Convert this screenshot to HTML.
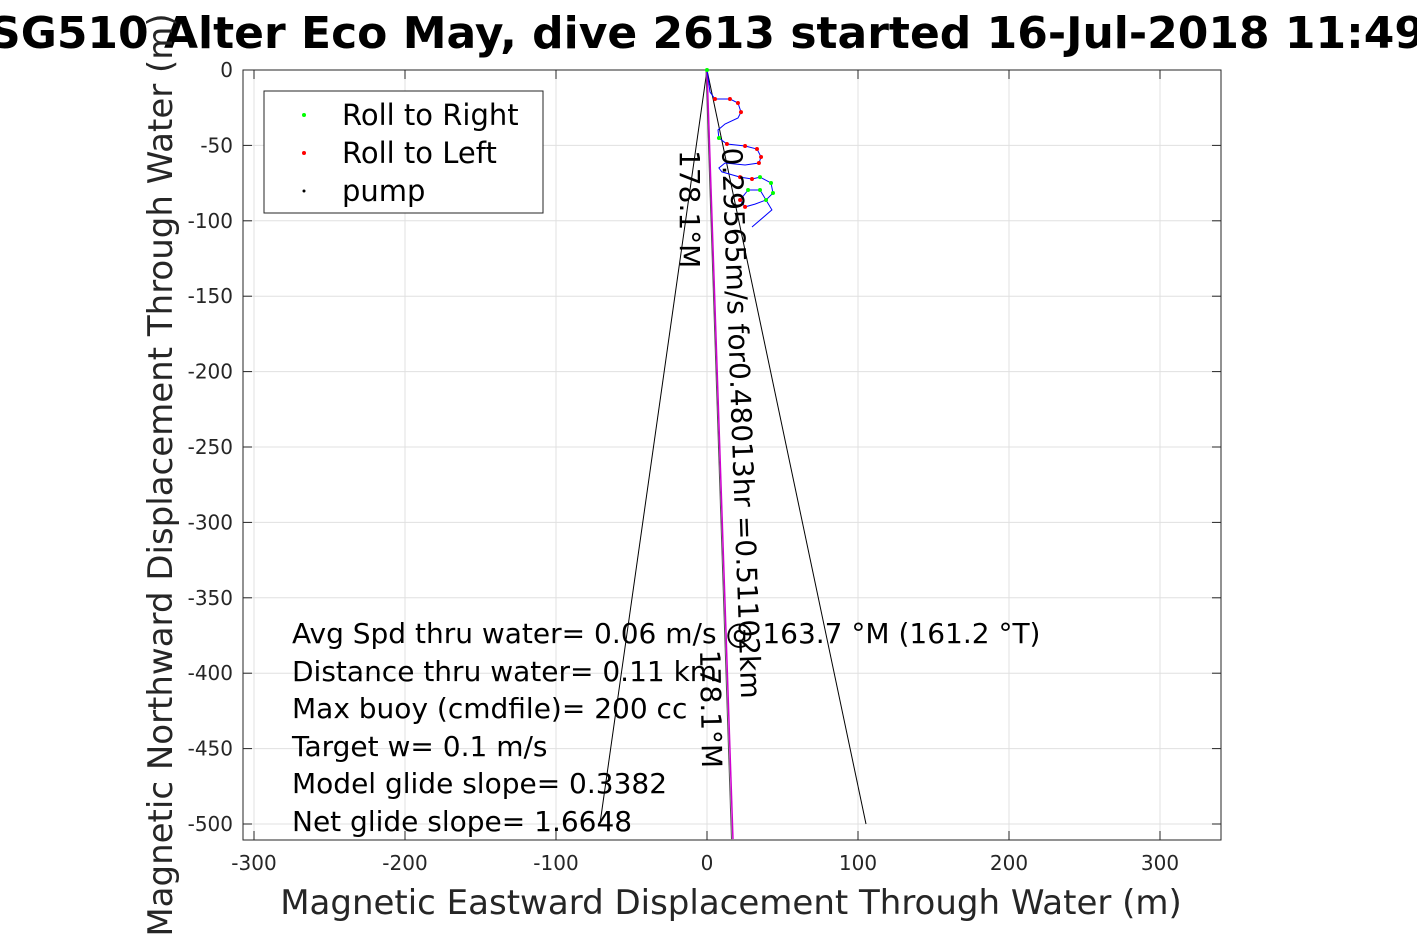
<!DOCTYPE html>
<html><head><meta charset="utf-8">
<style>
body{margin:0;background:#fff;}
svg{display:block;font-family:"DejaVu Sans","Liberation Sans",sans-serif;}
</style></head>
<body>
<svg id="chart" width="1417" height="945" viewBox="0 0 1417 945">
<rect width="1417" height="945" fill="#fff"/>
<g id="grid"></g>
<g id="axes"></g>
<g id="marks"></g>
<text x="707" y="48" font-size="44" font-weight="bold" text-anchor="middle">SG510 Alter Eco May, dive 2613 started 16-Jul-2018 11:49</text>
<text x="731" y="914" font-size="34" fill="#262626" text-anchor="middle">Magnetic Eastward Displacement Through Water (m)</text>
<text transform="translate(172,475) rotate(-90)" font-size="34" fill="#262626" text-anchor="middle">Magnetic Northward Displacement Through Water (m)</text>
<g>
<rect x="264" y="91" width="279" height="122" fill="#fff" stroke="#262626" stroke-width="1"/>
<circle cx="304" cy="115" r="2" fill="#00ff00"/>
<text x="342" y="125" font-size="29">Roll to Right</text>
<circle cx="304" cy="153" r="2" fill="#ff0000"/>
<text x="342" y="163" font-size="29">Roll to Left</text>
<circle cx="304" cy="191" r="1.5" fill="#000"/>
<text x="342" y="201" font-size="29">pump</text>
</g>
<g font-size="28">
<text x="292" y="643">Avg Spd thru water=  0.06 m/s @ 163.7 °M (161.2 °T)</text>
<text x="292" y="681">Distance thru water=  0.11 km</text>
<text x="292" y="718">Max buoy (cmdfile)= 200 cc</text>
<text x="292" y="756">Target w= 0.1 m/s</text>
<text x="292" y="793">Model glide slope= 0.3382</text>
<text x="292" y="831">Net glide slope= 1.6648</text>
</g>
<text transform="translate(680,150) rotate(90)" font-size="28">178.1°M</text>
<text transform="translate(700,650) rotate(89)" font-size="28">178.1°M</text>
<text transform="translate(722,148) rotate(88)" font-size="28">0.29565m/s for0.48013hr =0.51102km</text>
</svg>
<script>
const xTicks=[-300,-200,-100,0,100,200,300];
const yTicks=[0,-50,-100,-150,-200,-250,-300,-350,-400,-450,-500];
const trackX=[0,2,5.3,15.2,20.5,22.5,20.5,11.9,7.3,7.9,13.2,25.2,33.1,35.8,34.4,25.2,11.9,7.9,9.9,21.9,29.8,35.1,42.4,43.7,39.1,31.8,25.2,21.9,27.2,35.1,39.1,43.0,29.8];
const trackY=[0,-14.6,-19.2,-19.2,-21.9,-27.9,-31.8,-35.8,-39.8,-45.1,-49.1,-50.4,-52.4,-57.7,-61.7,-63,-61.7,-65,-67.6,-71,-72.3,-71,-74.9,-81.6,-86.2,-88.9,-90.8,-86.2,-79.6,-79.6,-86.2,-92.8,-104.1];
const redIdx=[2,3,4,5,10,11,12,13,14,19,20,26,27];
const greenIdx=[0,9,21,22,23,28,29,30];
const leftLineEnd=[-70.9,-500];
const rightLineEnd=[105.3,-500];
const headingLineEnd=[17.2,-510];
const X0=243,X1=1221,Y0=70,Y1=840;
function sx(v){return 707+v*1.51;}
function sy(v){return 70-v*1.508;}
const NS='http://www.w3.org/2000/svg';
function mk(p,t,a){const e=document.createElementNS(NS,t);for(const k in a)e.setAttribute(k,a[k]);p.appendChild(e);return e;}
const grid=document.getElementById('grid'),axes=document.getElementById('axes'),marks=document.getElementById('marks');
xTicks.forEach(v=>{
  const g=mk(grid,'line',{x1:sx(v),x2:sx(v),y1:Y0,y2:Y1,stroke:'#e0e0e0','stroke-width':1});
  
  
  mk(axes,'line',{x1:sx(v),x2:sx(v),y1:Y1,y2:Y1-9,stroke:'#262626'});
  mk(axes,'line',{x1:sx(v),x2:sx(v),y1:Y0,y2:Y0+9,stroke:'#262626'});
  const t=mk(axes,'text',{x:sx(v),y:870,'font-size':20,'text-anchor':'middle',fill:'#262626'});
  
  
  t.textContent=v;
});
yTicks.forEach(v=>{
  const g=mk(grid,'line',{x1:X0,x2:X1,y1:sy(v),y2:sy(v),stroke:'#e0e0e0','stroke-width':1});
  
  
  mk(axes,'line',{x1:X0,x2:X0+9,y1:sy(v),y2:sy(v),stroke:'#262626'});
  mk(axes,'line',{x1:X1,x2:X1-9,y1:sy(v),y2:sy(v),stroke:'#262626'});
  const t=mk(axes,'text',{x:233,y:sy(v)+7,'font-size':20,'text-anchor':'end',fill:'#262626'});
  
  
  t.textContent=v;
});
const box=mk(axes,'rect',{x:X0,y:Y0,width:X1-X0,height:Y1-Y0,fill:'none',stroke:'#262626','stroke-width':1});


const l1=mk(marks,'line',{x1:sx(0),y1:sy(0),x2:sx(leftLineEnd[0]),y2:sy(leftLineEnd[1]),stroke:'#000','stroke-width':1});


const l2=mk(marks,'line',{x1:sx(0),y1:sy(0),x2:sx(rightLineEnd[0]),y2:sy(rightLineEnd[1]),stroke:'#000','stroke-width':1});


const l3b=mk(marks,'line',{x1:sx(0)-1,y1:sy(0),x2:sx(headingLineEnd[0])-1.5,y2:sy(headingLineEnd[1]),stroke:'#555','stroke-width':1});


const l3=mk(marks,'line',{x1:sx(0),y1:sy(0),x2:sx(headingLineEnd[0]),y2:sy(headingLineEnd[1]),stroke:'#d000d0','stroke-width':1.5});


let d='';
trackX.forEach((x,i)=>{d+=(i?' L':'M')+sx(x).toFixed(1)+' '+sy(trackY[i]).toFixed(1);});
const tr=mk(marks,'path',{d:d,fill:'none',stroke:'#0000ff','stroke-width':1});


redIdx.forEach(i=>{
  const c=mk(marks,'circle',{cx:sx(trackX[i]),cy:sy(trackY[i]),r:2,fill:'#ff0000'});
  
  
});
greenIdx.forEach(i=>{
  const c=mk(marks,'circle',{cx:sx(trackX[i]),cy:sy(trackY[i]),r:2,fill:'#00ff00'});
  
  
});
</script>
</body></html>
